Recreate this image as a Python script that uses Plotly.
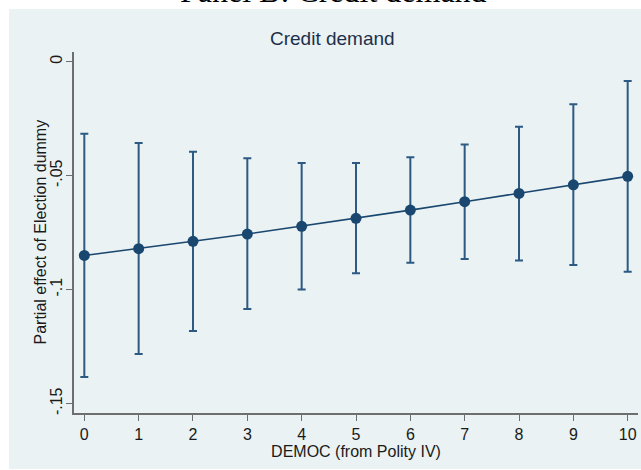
import plotly.graph_objects as go

democ = [0, 1, 2, 3, 4, 5, 6, 7, 8, 9, 10]
effect = [-0.0850, -0.0820, -0.0788, -0.0756, -0.0722, -0.0687, -0.0651, -0.0614, -0.0578, -0.0540, -0.0503]
ci_upper = [-0.0316, -0.0357, -0.0395, -0.0424, -0.0444, -0.0444, -0.0419, -0.0363, -0.0285, -0.0187, -0.0085]
ci_lower = [-0.1383, -0.1282, -0.1181, -0.1085, -0.0999, -0.0928, -0.0882, -0.0866, -0.0872, -0.0892, -0.0921]
y_tickvals = [0, -0.05, -0.1, -0.15]
y_ticktext = ["0", "-.05", "-.1", "-.15"]
x_tickvals = democ

W, H = 641, 470
NAVY = "#1a476f"
BG = "#eaf2f3"
FONT = "Liberation Sans, Arial, sans-serif"

err_plus = [u - e for u, e in zip(ci_upper, effect)]
err_minus = [e - l for e, l in zip(effect, ci_lower)]

fig = go.Figure()
fig.add_trace(go.Scatter(
    x=democ, y=effect, mode="lines+markers",
    line=dict(color=NAVY, width=1.6),
    marker=dict(color=NAVY, size=11, line=dict(width=0)),
    error_y=dict(type="data", symmetric=False, array=err_plus, arrayminus=err_minus,
                 color="#2c5a82", thickness=2, width=4),
    showlegend=False,
))

fig.add_hline(y=0, line=dict(color="#d6406a", width=2), layer="above")

L, R, T, B = 74, 3, 52, 57
PW, PH = W - L - R, H - T - B


def px(x):
    return (x - L) / PW


def py(y):
    return (H - y - B) / PH


fig.update_layout(
    width=W, height=H,
    margin=dict(l=L, r=R, t=T, b=B, pad=0),
    paper_bgcolor="white",
    plot_bgcolor="white",
    font=dict(family=FONT, size=16, color="#1a1a1a"),
    shapes=[dict(type="rect", xref="paper", yref="paper", layer="below",
                 x0=px(9), x1=px(W), y0=py(H - 1), y1=py(9),
                 fillcolor=BG, line=dict(width=0))],
    annotations=[
        dict(text="Credit demand", xref="paper", yref="paper",
             x=px(332), y=py(39), xanchor="center", yanchor="middle", showarrow=False,
             font=dict(family=FONT, size=19, color="#1e2f4d")),
        dict(text="Panel B: Credit demand", xref="paper", yref="paper",
             x=px(333), y=py(11), xanchor="center", yanchor="bottom", showarrow=False,
             font=dict(family="Liberation Serif, Times New Roman, serif", size=32, color="black")),
        dict(text="Partial effect of Election dummy", xref="paper", yref="paper",
             x=px(40), y=py(232.5), xanchor="center", yanchor="middle", textangle=-90,
             showarrow=False, font=dict(family=FONT, size=16, color="#1a1a1a")),
    ],
    xaxis=dict(
        range=[-0.19, 10.19], tickvals=x_tickvals, ticktext=[str(v) for v in x_tickvals],
        showgrid=False, zeroline=False, showline=True, linecolor="#6e6e6e", linewidth=1.5,
        ticks="outside", ticklen=6, tickwidth=1.2, tickcolor="#6e6e6e",
        tickfont=dict(family=FONT, size=16, color="#1a1a1a"),
        title=dict(text="DEMOC (from Polity IV)", font=dict(family=FONT, size=16, color="#1a1a1a"), standoff=3),
    ),
    yaxis=dict(
        range=[-0.1541, 0.00425], tickvals=y_tickvals, ticktext=y_ticktext, tickangle=-90,
        showgrid=True, gridcolor=BG, gridwidth=1.5, zeroline=False,
        showline=True, linecolor="#6e6e6e", linewidth=1.5,
        ticks="outside", ticklen=6, tickwidth=1.2, tickcolor="#6e6e6e",
        ticklabelstandoff=-2,
        tickfont=dict(family=FONT, size=16, color="#1a1a1a"),
    ),
)

fig.write_html("out.html")
